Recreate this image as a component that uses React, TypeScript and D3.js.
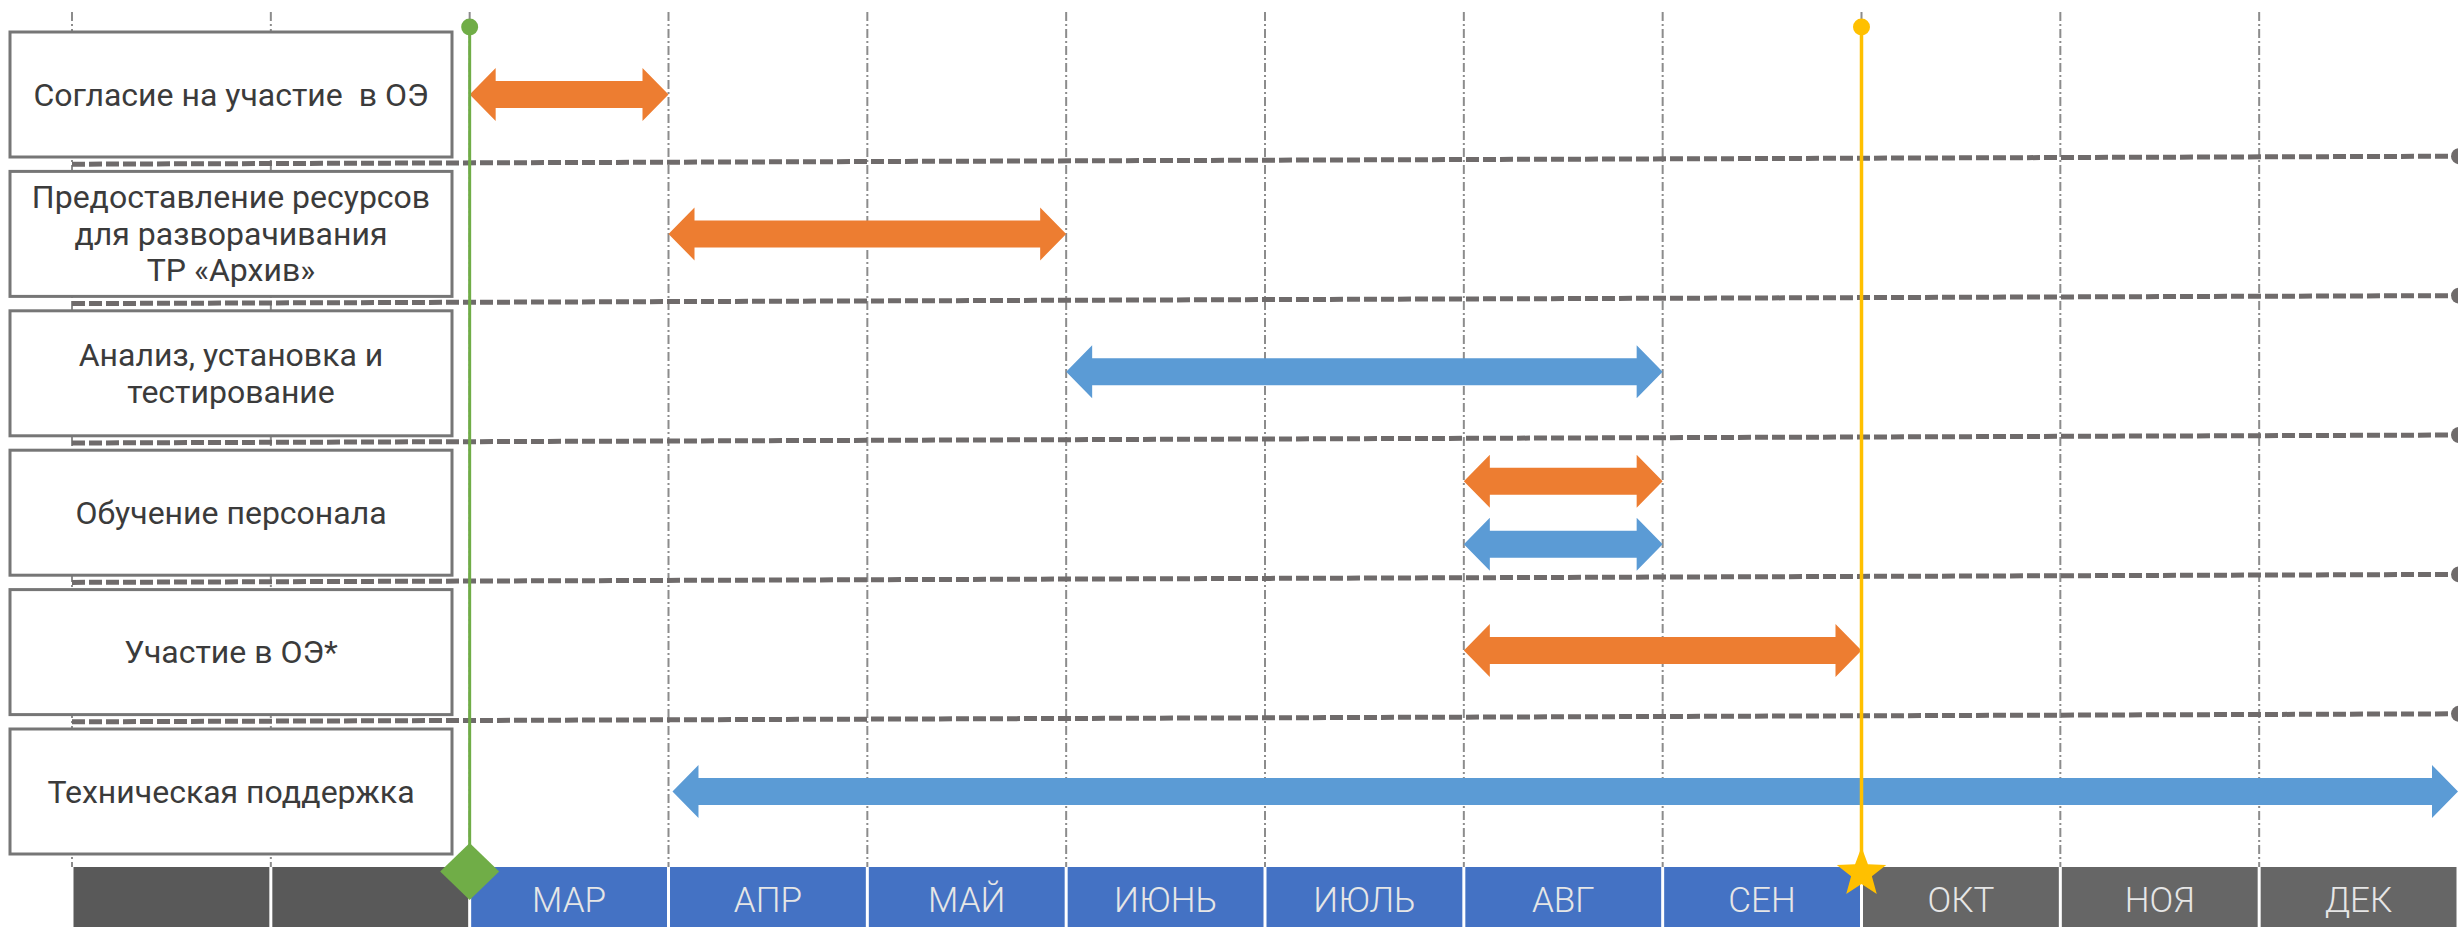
import React from "react";
import * as d3 from "d3";

const W = 2458;
const H = 927;

// ---------- data ----------
const months = ["ЯНВ", "ФЕВ", "МАР", "АПР", "МАЙ", "ИЮНЬ", "ИЮЛЬ", "АВГ", "СЕН", "ОКТ", "НОЯ", "ДЕК"];
const monthLabelShown = [false, false, true, true, true, true, true, true, true, true, true, true];
const monthPhase = ["past", "past", "active", "active", "active", "active", "active", "active", "active", "future", "future", "future"];

const taskLabels: string[][] = [
  ["Согласие на участие  в ОЭ"],
  ["Предоставление ресурсов", "для разворачивания", "ТР «Архив»"],
  ["Анализ, установка и", "тестирование"],
  ["Обучение персонала"],
  ["Участие в ОЭ*"],
  ["Техническая поддержка"],
];

// arrows: row index, start month boundary, end month boundary, kind, lane
const arrowRows = [0, 1, 2, 3, 3, 4, 5];
const arrowStart = [2, 3, 5, 7, 7, 7, 3.02];
const arrowEnd = [3, 5, 8, 8, 8, 9, 12];
const arrowKind = ["org", "org", "it", "org", "it", "org", "it"];
const arrowLane = [0, 0, -0.05, -1, 1, -0.05, 0];

// milestones at month boundaries
const milestoneAt = [2, 9];
const milestoneKind = ["start", "end"];

// ---------- styles ----------
const colors: Record<string, string> = {
  org: "#ED7D31",
  it: "#5B9BD5",
  start: "#70AD47",
  end: "#FFC000",
  past: "#595959",
  active: "#4472C4",
  future: "#666666",
};

export default function App() {
  const x = d3.scaleLinear().domain([0, 12]).range([72, W]);
  const rowY = d3.scaleLinear().domain([0, 5]).range([94.5, 791.5]);
  const rowStep = rowY(1) - rowY(0);
  const boxH = 125;
  const boxX0 = 10;
  const boxX1 = 452;
  const bandTop = 867;
  const gridTop = 12;

  const line = d3.line<[number, number]>();

  const arrowPath = (x0: number, x1: number, cy: number) => {
    const headL = 26;
    const headH = 26.5;
    const shaft = 13.5;
    const pts: [number, number][] = [
      [x0, cy],
      [x0 + headL, cy - headH],
      [x0 + headL, cy - shaft],
      [x1 - headL, cy - shaft],
      [x1 - headL, cy - headH],
      [x1, cy],
      [x1 - headL, cy + headH],
      [x1 - headL, cy + shaft],
      [x0 + headL, cy + shaft],
      [x0 + headL, cy + headH],
    ];
    return line(pts) + "Z";
  };

  const starPath = (cx: number, cy: number, R: number) => {
    const r = R * 0.42;
    const pts: [number, number][] = d3.range(10).map((i) => {
      const a = -Math.PI / 2 + (i * Math.PI) / 5;
      const rad = i % 2 === 0 ? R : r;
      return [cx + rad * Math.cos(a), cy + rad * Math.sin(a)];
    });
    return line(pts) + "Z";
  };

  const diamondPath = (cx: number, cy: number, hw: number, hh: number) =>
    line([
      [cx, cy - hh],
      [cx + hw, cy],
      [cx, cy + hh],
      [cx - hw, cy],
    ]) + "Z";

  const separators = d3.range(5).map((i) => (rowY(i) + rowY(i + 1)) / 2);
  const tilt = -8;

  return (
    <svg
      width={W}
      height={H}
      viewBox={`0 0 ${W} ${H}`}
      style={{ position: "absolute", left: 0, top: 0, display: "block", background: "#fff" }}
    >
      {/* vertical dash-dot gridlines */}
      {d3.range(0, 12).map((i) => (
        <line
          key={"g" + i}
          x1={x(i)}
          x2={x(i)}
          y1={gridTop}
          y2={bandTop}
          stroke="#8c8c8c"
          strokeWidth={2}
          strokeDasharray="9 3 2 3"
        />
      ))}

      {/* horizontal dashed separators */}
      {separators.map((y, i) => (
        <g key={"s" + i}>
          <line
            x1={x(0)}
            x2={W}
            y1={y}
            y2={y + tilt}
            stroke="#6f6b6b"
            strokeWidth={5}
            strokeDasharray="13 4"
          />
          <circle cx={W + 1} cy={y + tilt} r={8} fill="#6f6b6b" />
        </g>
      ))}

      {/* task boxes */}
      {taskLabels.map((lines, i) => {
        const cy = rowY(i);
        const lh = 36.5;
        const y0 = cy - ((lines.length - 1) * lh) / 2;
        return (
          <g key={"b" + i}>
            <rect
              x={boxX0}
              y={cy - boxH / 2}
              width={boxX1 - boxX0}
              height={boxH}
              fill="#fff"
              stroke="#767676"
              strokeWidth={3}
            />
            {lines.map((t, j) => (
              <text
                key={j}
                x={(boxX0 + boxX1) / 2}
                y={y0 + j * lh}
                textAnchor="middle"
                dominantBaseline="central"
                fontFamily="Roboto, 'Noto Sans', sans-serif"
                fontSize={32}
                fill="#3b3b3b"
                style={{ whiteSpace: "pre" }}
              >
                {t}
              </text>
            ))}
          </g>
        );
      })}

      {/* arrows */}
      {arrowRows.map((r, i) => (
        <path
          key={"a" + i}
          d={arrowPath(x(arrowStart[i]), x(arrowEnd[i]), rowY(r) + arrowLane[i] * (rowStep * 0.226))}
          fill={colors[arrowKind[i]]}
        />
      ))}

      {/* month band */}
      {months.map((m, i) => (
        <g key={"m" + i}>
          <rect
            x={x(i) + 1.5}
            y={bandTop}
            width={x(i + 1) - x(i) - 3}
            height={H - bandTop}
            fill={colors[monthPhase[i]]}
          />
          {monthLabelShown[i] && (
            <text
              x={(x(i) + x(i + 1)) / 2}
              y={(bandTop + H) / 2 + 3}
              textAnchor="middle"
              dominantBaseline="central"
              fontFamily="Roboto, 'Noto Sans', sans-serif"
              fontWeight={300}
              fontSize={35}
              fill="#e6e6e6"
            >
              {m}
            </text>
          )}
        </g>
      ))}

      {/* milestones */}
      {milestoneAt.map((m, i) => {
        const mx = x(m);
        const c = colors[milestoneKind[i]];
        return (
          <g key={"ms" + i}>
            <line x1={mx} x2={mx} y1={27} y2={bandTop} stroke={c} strokeWidth={milestoneKind[i] === "start" ? 3 : 3.5} />
            <circle cx={mx} cy={27} r={8.5} fill={c} />
            {milestoneKind[i] === "start" ? (
              <path d={diamondPath(mx, 871.5, 29.5, 28.5)} fill={c} />
            ) : (
              <path d={starPath(mx, 873, 26)} fill={c} />
            )}
          </g>
        );
      })}
    </svg>
  );
}
